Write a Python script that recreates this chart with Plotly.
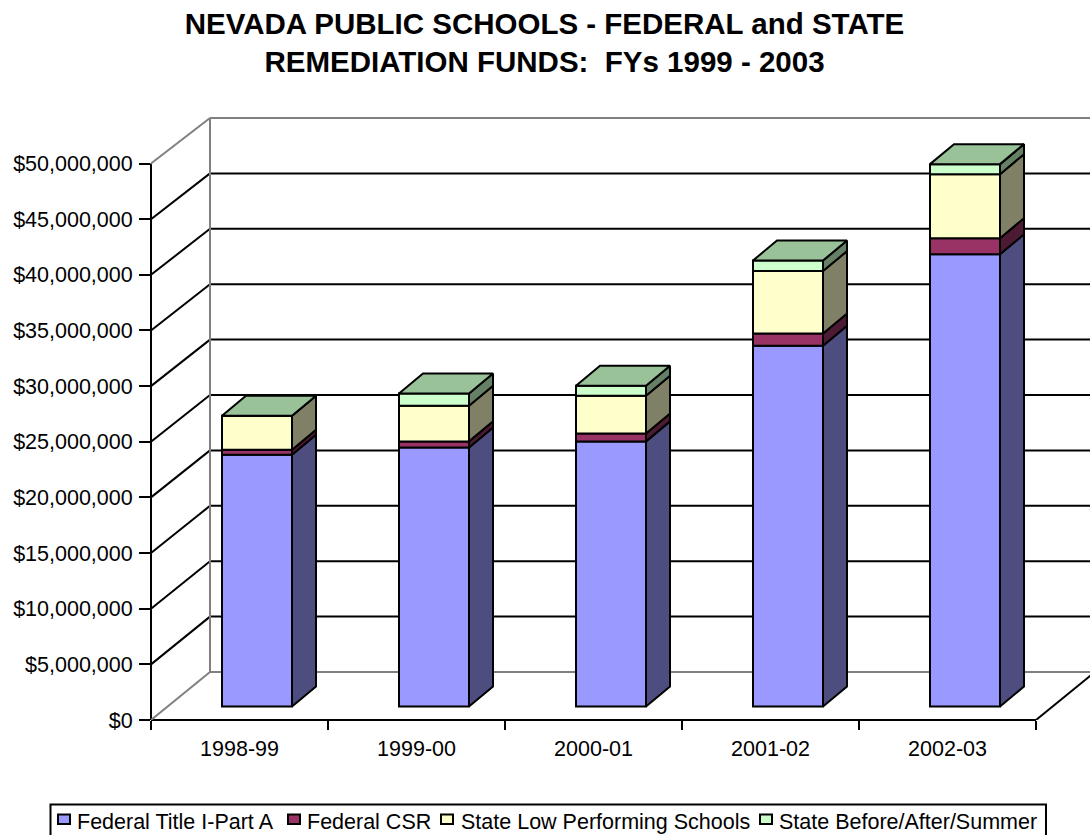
import plotly.graph_objects as go

categories = ["1998-99", "1999-00", "2000-01", "2001-02", "2002-03"]
series_names = ["Federal Title I-Part A", "Federal CSR", "State Low Performing Schools", "State Before/After/Summer"]
title_i = [22620000, 23270000, 23820000, 32420000, 40630000]
csr = [450000, 550000, 700000, 1100000, 1450000]
low_perf = [3050000, 3200000, 3400000, 5600000, 5750000]
before_after = [0, 1100000, 900000, 950000, 900000]
series_values = [title_i, csr, low_perf, before_after]
front_colors = ["#9999FF", "#993366", "#FFFFCC", "#CCFFCC"]
side_colors = ["#4D4D80", "#4D1A33", "#808066", "#668066"]
top_color = "#99C299"
y_ticks = [0, 5000000, 10000000, 15000000, 20000000, 25000000, 30000000, 35000000, 40000000, 45000000, 50000000]
y_labels = ["$0", "$5,000,000", "$10,000,000", "$15,000,000", "$20,000,000", "$25,000,000",
            "$30,000,000", "$35,000,000", "$40,000,000", "$45,000,000", "$50,000,000"]

FONT = "Liberation Sans, Arial, sans-serif"
PX_X = 177.0               # pixels per category
PX_Y = 55.65 / 5000000     # pixels per dollar
L, B, T = 151, 115, 100
W, H = 1090, 835
AXIS_Y = H - B
PLOT_W, PLOT_H = W - L - 0, H - B - T
xmax = PLOT_W / PX_X
ymax = PLOT_H / PX_Y
wall_dx, wall_dy = 59 / PX_X, 48 / PX_Y
wall_scale = 554 / 556.5
bar_dx, bar_dy = 24 / PX_X, 20 / PX_Y
bar_w = 70 / PX_X
bar_cx, bar_lift = 106 / PX_X, 13.5 / PX_Y
n_cat = len(categories)

fig = go.Figure()
cum = [0] * n_cat
poly_sets = []
for s, vals in enumerate(series_values):
    base = [c + bar_lift for c in cum]
    xs = [i + bar_cx for i in range(n_cat)]
    fig.add_trace(go.Bar(x=xs, y=vals, base=base, width=bar_w, name=series_names[s], showlegend=False,
                         marker=dict(color=front_colors[s], line=dict(color="black", width=2))))
    px, py = [], []
    for i in range(n_cat):
        xr = xs[i] + bar_w / 2
        lo, hi = base[i], base[i] + vals[i]
        px += [xr, xr + bar_dx, xr + bar_dx, xr, xr, None]
        py += [lo, lo + bar_dy, hi + bar_dy, hi, lo, None]
    poly_sets.append((px, py, side_colors[s]))
    cum = [c + v for c, v in zip(cum, vals)]

for px, py, col in poly_sets:
    fig.add_trace(go.Scatter(x=px, y=py, mode="lines", fill="toself", fillcolor=col,
                             line=dict(color="black", width=2), showlegend=False, hoverinfo="skip"))
tx, ty = [], []
for i in range(n_cat):
    xl = i + bar_cx - bar_w / 2
    xr = xl + bar_w
    top = cum[i] + bar_lift
    tx += [xl, xr, xr + bar_dx, xl + bar_dx, xl, None]
    ty += [top, top, top + bar_dy, top + bar_dy, top, None]
fig.add_trace(go.Scatter(x=tx, y=ty, mode="lines", fill="toself", fillcolor=top_color,
                         line=dict(color="black", width=2), showlegend=False, hoverinfo="skip"))

shapes = []
GRAY = "#808080"
for v in y_ticks:
    col = GRAY if v in (0, y_ticks[-1]) else "black"
    wy = v * wall_scale + wall_dy
    shapes.append(dict(type="line", xref="x", yref="y", x0=wall_dx, x1=xmax, y0=wy, y1=wy,
                       line=dict(color=col, width=2), layer="below"))
    shapes.append(dict(type="line", xref="x", yref="y", x0=0, x1=wall_dx, y0=v, y1=wy,
                       line=dict(color=col, width=2), layer="below"))
shapes.append(dict(type="line", xref="x", yref="y", x0=wall_dx, x1=wall_dx, y0=wall_dy,
                   y1=y_ticks[-1] * wall_scale + wall_dy, line=dict(color=GRAY, width=2), layer="below"))
shapes.append(dict(type="line", xref="x", yref="y", x0=n_cat, x1=n_cat + wall_dx, y0=0, y1=wall_dy,
                   line=dict(color="black", width=2), layer="below"))
shapes.append(dict(type="line", xref="paper", yref="y", x0=0, x1=0, y0=0, y1=y_ticks[-1],
                   line=dict(color="black", width=2), layer="below"))
shapes.append(dict(type="line", xref="x", yref="paper", x0=0, x1=n_cat, y0=0, y1=0,
                   line=dict(color="black", width=2), layer="below"))


def paper_x(p):
    return (p - L) / PLOT_W


def paper_y(p):
    return (AXIS_Y - p) / PLOT_H


# legend box, swatches and labels
shapes.append(dict(type="rect", xref="paper", yref="paper", x0=paper_x(50.5), x1=paper_x(1046),
                   y0=paper_y(804.5), y1=paper_y(845), line=dict(color="black", width=2), fillcolor="white"))
legend_swatch_px = [58, 288, 441, 760]
legend_text_px = [77, 307, 461, 779]
annotations = []
for s, name in enumerate(series_names):
    shapes.append(dict(type="rect", xref="paper", yref="paper", x0=paper_x(legend_swatch_px[s]),
                       x1=paper_x(legend_swatch_px[s] + 12), y0=paper_y(814.5), y1=paper_y(824),
                       line=dict(color="black", width=2), fillcolor=front_colors[s]))
    annotations.append(dict(xref="paper", yref="paper", x=paper_x(legend_text_px[s]), y=paper_y(822),
                            text=name, showarrow=False, xanchor="left", yanchor="middle",
                            font=dict(size=21.5), xshift=0, borderpad=0, borderwidth=0))

fig.update_layout(
    width=W, height=H,
    barmode="overlay",
    showlegend=False,
    paper_bgcolor="white", plot_bgcolor="white",
    margin=dict(l=L, r=0, t=T, b=B, pad=0, autoexpand=False),
    font=dict(family=FONT, size=21.5, color="black"),
    title=dict(text="NEVADA PUBLIC SCHOOLS - FEDERAL and STATE<br>REMEDIATION FUNDS:  FYs 1999 - 2003",
               font=dict(family=FONT, size=29.5, color="black", weight="bold"),
               x=544.5 / W, xanchor="center", y=1 - 34 / H, yanchor="top"),
    xaxis=dict(range=[0, xmax], tickmode="array", tickvals=[i + 0.5 for i in range(n_cat)], ticktext=categories,
               ticks="", showgrid=False, zeroline=False, showline=False, ticklabelstandoff=13,
               tickfont=dict(size=21.5),
               minor=dict(tickmode="array", tickvals=list(range(n_cat + 1)), ticks="outside", ticklen=9,
                          tickwidth=2, tickcolor="black", showgrid=False)),
    yaxis=dict(range=[0, ymax], tickmode="array", tickvals=y_ticks, ticktext=y_labels, ticks="outside",
               ticklen=11, tickwidth=2, tickcolor="black", showgrid=False, zeroline=False, showline=False,
               ticklabelstandoff=2, tickfont=dict(size=21.5)),
    shapes=shapes,
    annotations=annotations,
)
fig.write_html("out.html", config=dict(displayModeBar=False),
               post_script="document.body.style.margin='0';document.body.style.overflow='hidden';")
